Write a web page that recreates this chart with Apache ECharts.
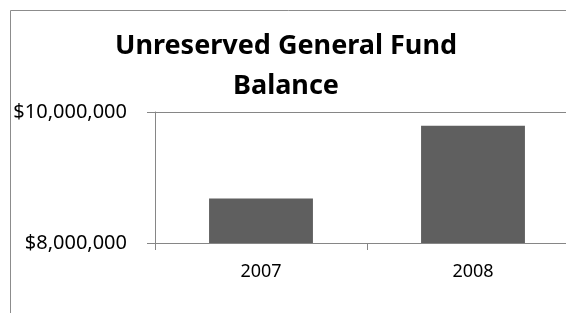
<!DOCTYPE html>
<html>
<head>
	<meta charset="UTF-8">
	<title>Unreserved General Fund Balance</title>
	<script src="https://cdn.jsdelivr.net/npm/echarts@6/dist/echarts.min.js"></script>
	<style>
		html, body { margin: 0; padding: 0; background: #fff; }
		#chart { width: 566px; height: 313px; }
	</style>
</head>
<body>
	<div id="chart"></div>
	<script>
		// data
		var years = ["2007", "2008"];
		var balance = [8680000, 9790000];
		var yTicks = [8000000, 10000000];

		function money(v) {
			return "$" + String(v).replace(/\B(?=(\d{3})+(?!\d))/g, ",");
		}

		var myChart = echarts.init(document.getElementById('chart'));
		var option = {
			backgroundColor: '#fff',
			animation: false,
			title: {
				text: 'Unreserved General Fund\nBalance',
				left: 281,
				top: 21,
				textAlign: 'center',
				textStyle: {
					fontFamily: 'Noto Sans',
					fontWeight: 'bold',
					fontSize: 27,
					lineHeight: 40,
					color: '#000'
				}
			},
			graphic: [{
				type: 'rect',
				shape: { x: 10.5, y: 10.5, width: 700, height: 500 },
				style: { fill: 'none', stroke: '#8c8c8c', lineWidth: 1 },
				silent: true
			}],
			grid: {
				left: 155,
				top: 112,
				width: 424,
				height: 131,
				outerBoundsMode: 'none'
			},
			xAxis: {
				type: 'category',
				data: years,
				axisLine: { lineStyle: { color: '#868686', width: 1 } },
				axisTick: { show: true, length: 7, lineStyle: { color: '#868686' } },
				axisLabel: {
					margin: 20,
					fontFamily: 'Noto Sans',
					fontSize: 18,
					color: '#000'
				}
			},
			yAxis: {
				type: 'value',
				min: yTicks[0],
				max: yTicks[yTicks.length - 1],
				interval: yTicks[1] - yTicks[0],
				axisLine: { show: true, lineStyle: { color: '#868686', width: 1 } },
				axisTick: { show: true, length: 8, lineStyle: { color: '#868686' } },
				splitLine: { show: true, lineStyle: { color: '#868686', width: 1 } },
				axisLabel: {
					margin: 28,
					fontFamily: 'Noto Sans',
					fontSize: 20,
					color: '#000',
					formatter: money
				}
			},
			series: [{
				type: 'bar',
				data: balance,
				barWidth: '49%',
				itemStyle: { color: '#5f5f5f' }
			}]
		};
		myChart.setOption(option);
	</script>
</body>
</html>
